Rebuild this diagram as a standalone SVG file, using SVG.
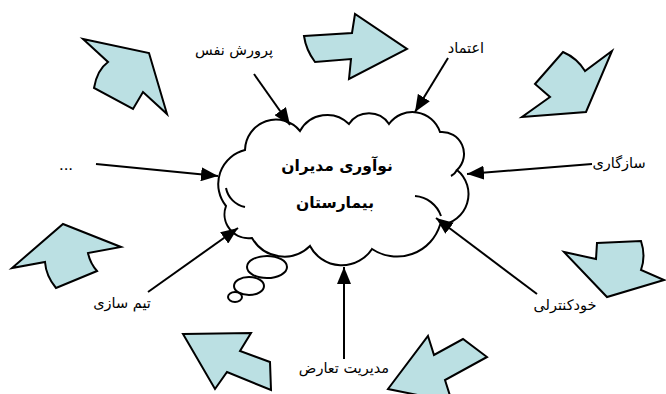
<svg xmlns="http://www.w3.org/2000/svg" width="666" height="394" viewBox="0 0 666 394">
<style>
.blk{fill:#BBE0E3;stroke:#000;stroke-width:2;stroke-linejoin:miter}
.cl{fill:#fff;stroke:#000;stroke-width:2}
.ln{fill:none;stroke:#000;stroke-width:2}
.lbl{font-family:"DejaVu Sans","Noto Sans",sans-serif;font-size:14.5px;fill:#000;text-anchor:middle}
.dots{font-family:"Liberation Sans",Arial,sans-serif;font-size:17px;fill:#000;text-anchor:middle}
.ttl{font-family:"DejaVu Sans","Noto Sans",sans-serif;font-size:15.5px;font-weight:bold;fill:#000;text-anchor:middle}
</style>
<defs>
<marker id="ah" markerUnits="userSpaceOnUse" markerWidth="18" markerHeight="14" refX="17" refY="7" orient="auto">
<path d="M0,0 L17,7 L0,14 Z" fill="#000"/>
</marker>
</defs>
<rect width="666" height="394" fill="#fff"/>
<g id="block-arrows">
<path class="blk" d="M83,39 L149,53 L167,114 L143,92 L133,109 L94,88 Q97,70 108,62 Z"/>
<path class="blk" d="M304,36 L352,33 L355,14 L407,49 L349,79 L351,59 L315,62 Q306,50 304,36 Z"/>
<path class="blk" d="M563,52 Q577,58 585,71 L612,51 L586,112 L522,117 L550,97 L535,84 Z"/>
<path class="blk" d="M63,224 L121,247 L88,253 Q90,263 97,271 L56,288 Q46,276 45,262 L12,268 Z"/>
<path class="blk" d="M597,243 L641,241 Q646,256 641,270 L664,280 L607,297 L564,252 L596,259 Z"/>
<path class="blk" d="M428,336 L434,355 L463,339 L487,357 L445,380 L452,402 L388,389 Z"/>
<path class="blk" d="M183,334 L251,333 L240,351 L270,362 L271,390 L227,372 L215,389 Z"/>
</g>
<g id="cloud">
<path class="cl" d="M245,150 A31,31 0 0 1 300,131 A31,31 0 0 1 349,124 A24,24 0 0 1 389,124 A29,29 0 0 1 440,132 A22,22 0 0 1 457,170 A31,31 0 0 1 440,225 A45,45 0 0 1 372,249 A36,36 0 0 1 310,246 A37,37 0 0 1 252,238 A24,24 0 0 1 226,206 A35,35 0 0 1 245,150 Z"/>
<path class="ln" d="M415,196 A30,30 0 0 1 441,216"/>
<path class="ln" d="M226,188 A24,24 0 0 0 245,207"/>
<path class="ln" d="M457,170 A14,14 0 0 1 451,176"/>
<ellipse class="cl" cx="267" cy="267" rx="20" ry="11"/>
<ellipse class="cl" cx="249" cy="286" rx="15" ry="9"/>
<ellipse class="cl" cx="235" cy="297" rx="7" ry="5"/>
<text class="ttl" x="337" y="171">نوآوری مدیران</text>
<text class="ttl" x="335" y="208">بیمارستان</text>
</g>
<g id="connectors">
<line class="ln" x1="254" y1="74" x2="290" y2="125" marker-end="url(#ah)"/>
<line class="ln" x1="448" y1="58" x2="415" y2="112" marker-end="url(#ah)"/>
<line class="ln" x1="592" y1="164" x2="467" y2="174" marker-end="url(#ah)"/>
<line class="ln" x1="537" y1="294" x2="436" y2="218" marker-end="url(#ah)"/>
<line class="ln" x1="344" y1="359" x2="344" y2="267" marker-end="url(#ah)"/>
<line class="ln" x1="148" y1="292" x2="238" y2="228" marker-end="url(#ah)"/>
<line class="ln" x1="96" y1="164" x2="218" y2="176" marker-end="url(#ah)"/>
</g>
<g id="labels">
<text class="lbl" x="234" y="55">پرورش نفس</text>
<text class="lbl" x="466" y="53">اعتماد</text>
<text class="lbl" x="619" y="168">سازگاری</text>
<text class="lbl" x="565" y="310">خودکنترلی</text>
<text class="lbl" x="344" y="373">مدیریت تعارض</text>
<text class="lbl" x="122" y="308">تیم سازی</text>
<text class="dots" x="66" y="170">...</text>
</g>
</svg>
